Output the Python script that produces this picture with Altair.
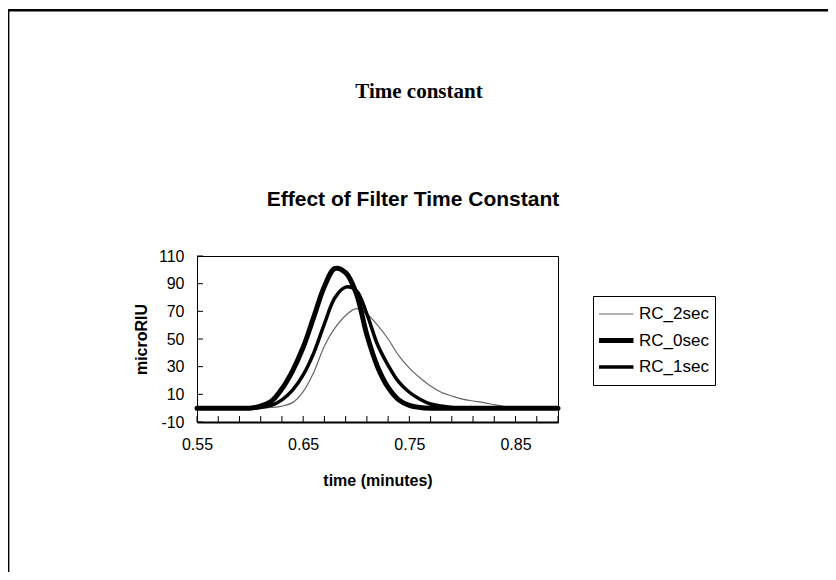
import altair as alt
import pandas as pd

# ---- data ----
x_vals = [0.55, 0.56, 0.57, 0.58, 0.59, 0.60, 0.61, 0.62, 0.63, 0.64, 0.65, 0.66,
          0.67, 0.68, 0.69, 0.70, 0.71, 0.72, 0.73, 0.74, 0.75, 0.76, 0.77, 0.78,
          0.79, 0.80, 0.81, 0.82, 0.83, 0.84, 0.85, 0.86, 0.87, 0.88, 0.89]

rc_2sec = [0, 0, 0, 0, 0, 0, 0, 0.5, 1.5, 4, 12, 26,
           45, 58, 67, 72, 68, 60, 50, 38, 29, 22, 16, 11.5,
           8.8, 6.5, 5.2, 4, 2.5, 1.2, 0.4, 0, 0, 0, 0]
rc_0sec = [0, 0, 0, 0, 0, 0, 1.5, 5, 14, 27, 44, 66,
           88, 101, 98, 83, 53, 30, 15, 6, 2, 0.5, 0, 0,
           0, 0, 0, 0, 0, 0, 0, 0, 0, 0, 0]
rc_1sec = [0, 0, 0, 0, 0, 0, 0.5, 2, 6, 13, 24, 40,
           61, 80, 87.5, 85, 68, 46, 31, 19, 11.5, 6.5, 3, 1.5,
           0.5, 0, 0, 0, 0, 0, 0, 0, 0, 0, 0]

series_names = ["RC_2sec", "RC_0sec", "RC_1sec"]
x_ticks = [0.55, 0.57, 0.59, 0.61, 0.63, 0.65, 0.67, 0.69, 0.71, 0.73,
           0.75, 0.77, 0.79, 0.81, 0.83, 0.85, 0.87, 0.89]
x_labels = [0.55, 0.65, 0.75, 0.85]
y_ticks = [-10, 10, 30, 50, 70, 90, 110]

rows = []
for name, vals in zip(series_names, [rc_2sec, rc_0sec, rc_1sec]):
    for xv, yv in zip(x_vals, vals):
        rows.append({"time": xv, "value": yv, "series": name})
df = pd.DataFrame(rows)

W, H = 361, 166
SANS = "Liberation Sans"

xscale = alt.Scale(domain=[0.55, 0.89], nice=False, zero=False)
yscale = alt.Scale(domain=[-10, 110], nice=False, zero=False)

xaxis = alt.Axis(
    values=x_labels, format=".2f", title="time (minutes)", ticks=False, grid=False,
    labelFlush=False, labelPadding=14, titlePadding=20, domainColor="black", domainWidth=2,
    labelFont=SANS, labelFontSize=16, labelColor="black",
    titleFont=SANS, titleFontSize=16, titleFontWeight="bold", titleColor="black")
yaxis = alt.Axis(
    values=y_ticks, labelExpr="'' + datum.value", title="microRIU", ticks=False, grid=False,
    labelFlush=False, labelPadding=13, titlePadding=9, domainColor="black", domainWidth=1,
    labelFont=SANS, labelFontSize=16, labelColor="black",
    titleFont=SANS, titleFontSize=16, titleFontWeight="bold", titleColor="black")

legend = alt.Legend(
    title=None, orient="none", legendX=396, legendY=40,
    strokeColor="black", fillColor="white", padding=6,
    symbolType="stroke", symbolSize=1296, clipHeight=24, rowPadding=2.5,
    symbolOffset=-4,
    labelFont=SANS, labelFontSize=17, labelColor="black", labelOffset=3,
    cornerRadius=0,
)

lines = alt.Chart(df).mark_line(
    interpolate="catmull-rom", strokeJoin="round", strokeCap="round"
).encode(
    x=alt.X("time:Q", scale=xscale, axis=xaxis),
    y=alt.Y("value:Q", scale=yscale, axis=yaxis),
    color=alt.Color("series:N", scale=alt.Scale(domain=series_names,
                    range=["#666666", "#000000", "#000000"]), legend=legend),
    strokeWidth=alt.StrokeWidth("series:N", scale=alt.Scale(type="ordinal", domain=series_names,
                                range=[1.2, 5, 3.5]), legend=legend),
)

xt = alt.Chart(pd.DataFrame({"time": x_ticks})).mark_rule(color="black", strokeWidth=1).encode(
    x=alt.X("time:Q", scale=xscale, axis=xaxis), y=alt.value(H - 6), y2=alt.value(H))
yt = alt.Chart(pd.DataFrame({"value": y_ticks})).mark_rule(color="black", strokeWidth=1).encode(
    y=alt.Y("value:Q", scale=yscale, axis=yaxis), x=alt.value(0), x2=alt.value(6))

one = pd.DataFrame({"t": ["frame"]})
frame_top = alt.Chart(one).mark_rule(color="black", strokeWidth=2.5).encode(
    x=alt.value(-189), x2=alt.value(640), y=alt.value(-245.7))
frame_left = alt.Chart(one).mark_rule(color="black", strokeWidth=2).encode(
    x=alt.value(-188.6), y=alt.value(-247), y2=alt.value(330))

t1 = alt.Chart(pd.DataFrame({"t": ["Time constant"]})).mark_text(
    font="Liberation Serif", fontSize=21, fontWeight="bold", align="center",
    baseline="alphabetic", color="black").encode(
    text="t:N", x=alt.value(222), y=alt.value(-158))
t2 = alt.Chart(pd.DataFrame({"t": ["Effect of Filter Time Constant"]})).mark_text(
    font=SANS, fontSize=21, fontWeight="bold", align="center",
    baseline="alphabetic", color="black").encode(
    text="t:N", x=alt.value(216), y=alt.value(-50))

chart = alt.layer(frame_top, frame_left, lines, xt, yt, t1, t2).properties(
    width=W, height=H,
    autosize=alt.AutoSizeParams(type="none"),
    padding={"left": 189, "top": 248, "right": 270, "bottom": 150},
    background="white",
).configure_view(stroke="black", strokeWidth=1)

chart.save("out.html", embed_options={"renderer": "svg", "actions": False})
